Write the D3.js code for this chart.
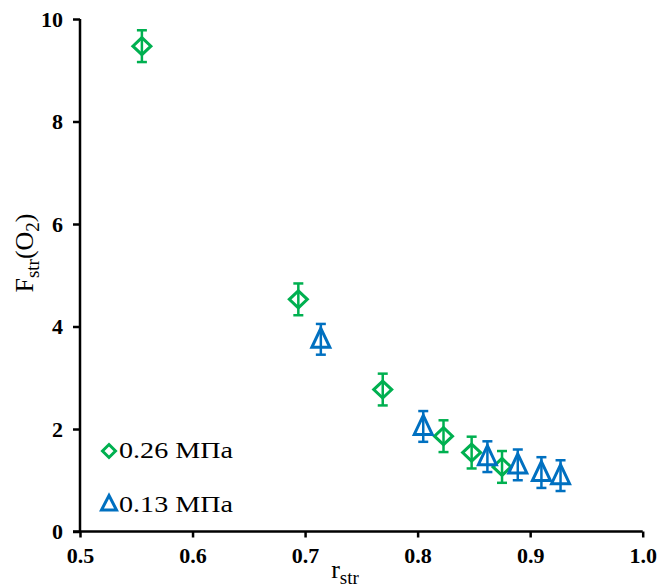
<!DOCTYPE html>
<html>
<head>
<meta charset="utf-8">
<script src="https://cdn.jsdelivr.net/npm/d3@7"></script>
<style>
  html, body { margin: 0; padding: 0; background: #fff; }
  svg { display: block; }
  svg text { font-family: 'Liberation Serif', 'DejaVu Serif', serif !important; }
</style>
</head>
<body>
<svg id="chart" width="662" height="587"></svg>
<script>
// Data
const seriesNames = ["0.26 МПа", "0.13 МПа"];
const greenX = [0.555, 0.694, 0.769, 0.823, 0.848, 0.875];
const greenY = [9.47, 4.53, 2.77, 1.86, 1.54, 1.26];
const greenErr = [0.31, 0.31, 0.31, 0.31, 0.31, 0.31];
const blueX = [0.714, 0.805, 0.862, 0.889, 0.910, 0.927];
const blueY = [3.75, 2.05, 1.46, 1.30, 1.15, 1.09];
const blueErr = [0.30, 0.30, 0.30, 0.30, 0.30, 0.30];
const xTicks = [0.5, 0.6, 0.7, 0.8, 0.9, 1.0];
const yTicks = [0, 2, 4, 6, 8, 10];

const GREEN = "#00B050", BLUE = "#0070C0";
const FONT = "'Liberation Serif', 'DejaVu Serif', serif";
const svg = d3.select("#chart");

const x = d3.scaleLinear().domain([0.5, 1.0]).range([80, 642.7]);
const y = d3.scaleLinear().domain([0, 10]).range([531.5, 19]);

// Axes
const xAxis = d3.axisBottom(x).tickValues(xTicks).tickFormat(d3.format(".1f")).tickSizeInner(6).tickSizeOuter(0).tickPadding(10);
const yAxis = d3.axisLeft(y).tickValues(yTicks).tickFormat(d3.format("d")).tickSizeInner(7).tickSizeOuter(0).tickPadding(10);

const gx = svg.append("g").attr("transform", `translate(0,${y(0)})`).call(xAxis);
const gy = svg.append("g").attr("transform", `translate(${x(0.5)},0)`).call(yAxis);
[gx, gy].forEach(g => {
  g.attr("font-family", null);
  g.select(".domain").attr("stroke", "#000").attr("stroke-width", 2.5);
  g.selectAll(".tick line").attr("stroke", "#000").attr("stroke-width", 2.5);
  g.selectAll(".tick text").attr("fill", "#000").attr("font-size", 22).attr("font-weight", "bold")
    .style("font-family", FONT);
});
gx.selectAll(".tick text").attr("dy", "0.71em");
gx.select(".domain").attr("d", `M${x(0.5)-7},0H${x(1.0)}`);
gy.select(".domain").attr("d", `M0,${y(0)}V${y(10)}`);

// Error bars + markers
function drawSeries(xs, ys, es, color, shape) {
  const data = xs.map((v, i) => ({x: v, y: ys[i], e: es[i]}));
  const g = svg.append("g");
  const cap = 5;
  data.forEach(d => {
    const cx = x(d.x), cyTop = y(d.y + d.e), cyBot = y(d.y - d.e);
    g.append("line").attr("x1", cx).attr("x2", cx).attr("y1", cyTop).attr("y2", cyBot)
      .attr("stroke", color).attr("stroke-width", 2.5);
    g.append("line").attr("x1", cx - cap).attr("x2", cx + cap).attr("y1", cyTop).attr("y2", cyTop)
      .attr("stroke", color).attr("stroke-width", 2.5);
    g.append("line").attr("x1", cx - cap).attr("x2", cx + cap).attr("y1", cyBot).attr("y2", cyBot)
      .attr("stroke", color).attr("stroke-width", 2.5);
  });
  g.selectAll("path.m").data(data).join("path")
    .attr("class", "m")
    .attr("transform", d => `translate(${x(d.x)},${y(d.y)})`)
    .attr("d", shape)
    .attr("fill", "none").attr("stroke", color).attr("stroke-width", 3);
}
const diamond = "M0,-8.5L9,0L0,8.5L-9,0Z";
const triangle = "M0,-11L9,8L-9,8Z";
drawSeries(greenX, greenY, greenErr, GREEN, diamond);
drawSeries(blueX, blueY, blueErr, BLUE, triangle);

// Legend
const leg = svg.append("g");
leg.append("path").attr("d", "M0,-6.5L6.5,0L0,6.5L-6.5,0Z").attr("transform", "translate(109,451)")
  .attr("fill", "none").attr("stroke", GREEN).attr("stroke-width", 3);
leg.append("text").attr("x", 119).attr("y", 457.5).attr("font-size", 24).attr("fill", "#000")
  .attr("textLength", 114).attr("lengthAdjust", "spacingAndGlyphs")
  .style("font-family", FONT).text(seriesNames[0]);
leg.append("path").attr("d", "M0,-7.5L7.5,7L-7.5,7Z").attr("transform", "translate(109,503)")
  .attr("fill", "none").attr("stroke", BLUE).attr("stroke-width", 3);
leg.append("text").attr("x", 119).attr("y", 511.5).attr("font-size", 24).attr("fill", "#000")
  .attr("textLength", 114).attr("lengthAdjust", "spacingAndGlyphs")
  .style("font-family", FONT).text(seriesNames[1]);

// Axis titles
const xt = svg.append("text").attr("x", 345).attr("y", 578).attr("text-anchor", "middle")
  .attr("font-size", 26).attr("fill", "#000").style("font-family", FONT);
xt.append("tspan").text("r");
xt.append("tspan").attr("font-size", 19).attr("dy", 6).text("str");

const yt = svg.append("text").attr("transform", "translate(33,253) rotate(-90)").attr("text-anchor", "middle")
  .attr("font-size", 26).attr("fill", "#000").style("font-family", FONT);
yt.append("tspan").text("F");
yt.append("tspan").attr("font-size", 19).attr("dy", 6).text("str");
yt.append("tspan").attr("dy", -6).text("(O");
yt.append("tspan").attr("font-size", 19).attr("dy", 6).text("2");
yt.append("tspan").attr("dy", -6).text(")");
</script>
</body>
</html>
